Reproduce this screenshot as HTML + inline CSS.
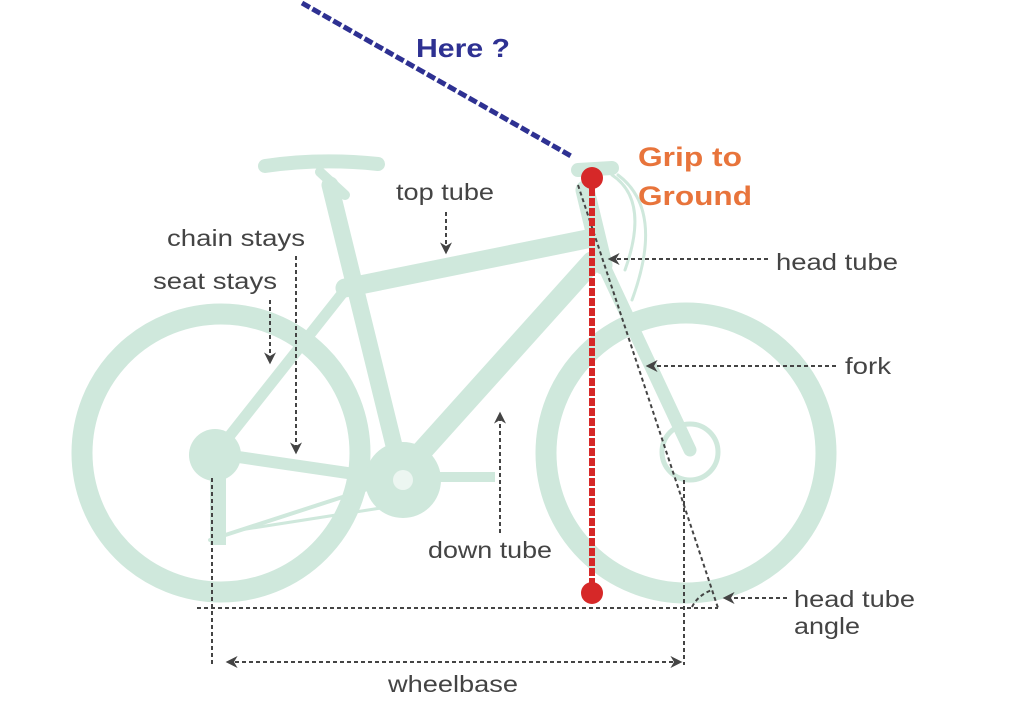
<!DOCTYPE html>
<html><head><meta charset="utf-8"><style>
html,body{margin:0;padding:0;background:#fff;}
svg{display:block;}
text{font-family:"Liberation Sans",Arial,sans-serif;}
</style></head><body>
<svg width="1024" height="720" viewBox="0 0 1024 720" xmlns="http://www.w3.org/2000/svg">
<defs>
<marker id="ah" viewBox="0 0 10 10" refX="8" refY="5" markerWidth="6" markerHeight="6" markerUnits="userSpaceOnUse" orient="auto-start-reverse"><path d="M0,0 L10,5 L0,10 Z" fill="#444"/></marker>
<marker id="ah2" viewBox="0 0 10 10" refX="8" refY="5" markerWidth="12" markerHeight="12" markerUnits="userSpaceOnUse" orient="auto-start-reverse"><path d="M0,0 L10,5 L0,10 L3,5 Z" fill="#444"/></marker>
</defs>
<rect width="1024" height="720" fill="#fff"/>
<g fill="none" stroke="#cfe8dc" stroke-linecap="round">
 <circle cx="221" cy="453" r="139" stroke-width="21"/>
 <circle cx="686" cy="453" r="140" stroke-width="21"/>
 <line x1="330" y1="185" x2="400" y2="470" stroke-width="17"/>
 <line x1="345" y1="288" x2="592" y2="238" stroke-width="19"/>
 <line x1="592" y1="262" x2="405" y2="470" stroke-width="21"/>
 <line x1="345" y1="290" x2="220" y2="448" stroke-width="11"/>
 <line x1="225" y1="455" x2="395" y2="480" stroke-width="12"/>
 <line x1="585" y1="190" x2="603" y2="265" stroke-width="19"/>
 <line x1="602" y1="262" x2="690" y2="450" stroke-width="13"/>
 <line x1="578" y1="170" x2="612" y2="168" stroke-width="14"/>
 <path d="M612 175 Q650 200 625 270" stroke-width="3"/>
 <path d="M618 175 Q665 210 632 300" stroke-width="3"/>
 <path d="M265 166 Q320 158 378 164" stroke-width="14"/>
 <line x1="320" y1="172" x2="345" y2="195" stroke-width="10"/>
 <circle cx="690" cy="452" r="28" stroke-width="5"/>
 <line x1="395" y1="480" x2="210" y2="540" stroke-width="4"/>
 <line x1="400" y1="505" x2="240" y2="530" stroke-width="3"/>
</g>
<g fill="#cfe8dc">
 <circle cx="403" cy="480" r="38"/>
 <circle cx="215" cy="455" r="26"/>
 <rect x="440" y="472" width="55" height="10"/>
 <rect x="210" y="470" width="16" height="75"/>
</g>
<g fill="#fff" opacity="0.6"><circle cx="403" cy="480" r="10"/></g>
<g stroke="#444" stroke-width="2" stroke-dasharray="4,3" fill="none">
 <line x1="446" y1="212" x2="446" y2="252" marker-end="url(#ah2)"/>
 <line x1="296" y1="256" x2="296" y2="452" marker-end="url(#ah2)"/>
 <line x1="270" y1="300" x2="270" y2="362" marker-end="url(#ah2)"/>
 <line x1="500" y1="533" x2="500" y2="414" marker-end="url(#ah2)"/>
 <line x1="768" y1="259" x2="610" y2="259" marker-end="url(#ah2)"/>
 <line x1="836" y1="366" x2="648" y2="366" marker-end="url(#ah2)"/>
 <line x1="787" y1="598" x2="725" y2="598" marker-end="url(#ah2)"/>
 <line x1="228" y1="662" x2="680" y2="662" marker-start="url(#ah2)" marker-end="url(#ah2)"/>
 <line x1="197" y1="608" x2="718" y2="608"/>
 <line x1="212" y1="478" x2="212" y2="665"/>
 <line x1="684" y1="480" x2="684" y2="665"/>
 <line x1="578" y1="185" x2="718" y2="608"/>
 <path d="M692 607 Q698 595 712 590"/>
</g>
<g font-size="23" fill="#444" lengthAdjust="spacingAndGlyphs">
<text x="396" y="200" textLength="98" lengthAdjust="spacingAndGlyphs">top tube</text>
<text x="167" y="246" textLength="138" lengthAdjust="spacingAndGlyphs">chain stays</text>
<text x="153" y="289" textLength="124" lengthAdjust="spacingAndGlyphs">seat stays</text>
<text x="428" y="558" textLength="124" lengthAdjust="spacingAndGlyphs">down tube</text>
<text x="776" y="270" textLength="122" lengthAdjust="spacingAndGlyphs">head tube</text>
<text x="845" y="374" textLength="46" lengthAdjust="spacingAndGlyphs">fork</text>
<text x="794" y="607" textLength="121" lengthAdjust="spacingAndGlyphs">head tube</text>
<text x="794" y="634" textLength="66" lengthAdjust="spacingAndGlyphs">angle</text>
<text x="388" y="692" textLength="130" lengthAdjust="spacingAndGlyphs">wheelbase</text>
</g>
<line x1="302" y1="3" x2="571" y2="156" stroke="#2e3192" stroke-width="5" stroke-dasharray="9,3"/>
<text x="416" y="57" font-size="26" font-weight="bold" fill="#2e3192" textLength="94" lengthAdjust="spacingAndGlyphs">Here ?</text>
<line x1="592" y1="178" x2="592" y2="593" stroke="#d62828" stroke-width="6" stroke-dasharray="8,2"/>
<circle cx="592" cy="178" r="11" fill="#d62828"/>
<circle cx="592" cy="593" r="11" fill="#d62828"/>
<text x="638" y="166" font-size="27" font-weight="bold" fill="#e8743b" textLength="104" lengthAdjust="spacingAndGlyphs">Grip to</text>
<text x="638" y="205" font-size="27" font-weight="bold" fill="#e8743b" textLength="114" lengthAdjust="spacingAndGlyphs">Ground</text>
</svg>
</body></html>
